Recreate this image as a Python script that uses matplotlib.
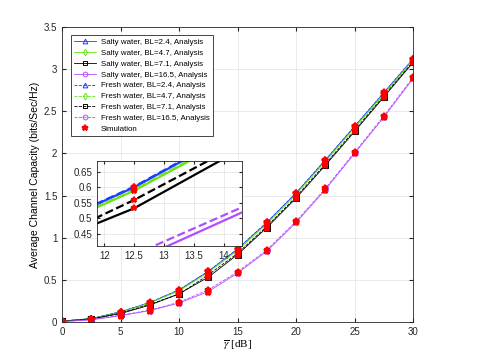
import numpy as np
import matplotlib
matplotlib.use('Agg')
import matplotlib.pyplot as plt

plt.rcParams['font.family'] = ['Liberation Sans', 'DejaVu Sans']
plt.rcParams['mathtext.fontset'] = 'stix'

snr = [0, 2.5, 5, 7.5, 10, 12.5, 15, 17.5, 20, 22.5, 25, 27.5, 30]

salty_24 = [0.01, 0.04, 0.12, 0.23, 0.38, 0.600, 0.865, 1.18, 1.53, 1.92, 2.32, 2.72, 3.12]
salty_47 = [0.01, 0.04, 0.115, 0.225, 0.371, 0.589, 0.850, 1.165, 1.515, 1.905, 2.305, 2.705, 3.11]
salty_71 = [0.01, 0.035, 0.10, 0.20, 0.335, 0.532, 0.800, 1.12, 1.47, 1.86, 2.26, 2.67, 3.08]
salty_165 = [0.005, 0.025, 0.075, 0.135, 0.225, 0.361, 0.580, 0.84, 1.18, 1.57, 2.00, 2.43, 2.89]
fresh_24 = [0.01, 0.041, 0.121, 0.232, 0.382, 0.602, 0.868, 1.183, 1.533, 1.923, 2.323, 2.723, 3.123]
fresh_47 = [0.01, 0.041, 0.116, 0.227, 0.373, 0.591, 0.853, 1.168, 1.518, 1.908, 2.308, 2.708, 3.113]
fresh_71 = [0.01, 0.037, 0.105, 0.21, 0.33, 0.559, 0.815, 1.135, 1.485, 1.875, 2.275, 2.685, 3.09]
fresh_165 = [0.006, 0.027, 0.08, 0.14, 0.235, 0.382, 0.595, 0.855, 1.195, 1.585, 2.015, 2.445, 2.905]

labels = ['Salty water, BL=2.4, Analysis', 'Salty water, BL=4.7, Analysis',
          'Salty water, BL=7.1, Analysis', 'Salty water, BL=16.5, Analysis',
          'Fresh water, BL=2.4, Analysis', 'Fresh water, BL=4.7, Analysis',
          'Fresh water, BL=7.1, Analysis', 'Fresh water, BL=16.5, Analysis']
series = [salty_24, salty_47, salty_71, salty_165, fresh_24, fresh_47, fresh_71, fresh_165]
colors = ['#1f3dff', '#66e619', '#000000', '#b24dff'] * 2
markers = ['^', 'd', 's', 'o'] * 2
styles = ['-'] * 4 + ['--'] * 4

fig = plt.figure(figsize=(4.85, 3.63), dpi=100)
ax = fig.add_axes([0.128, 0.113, 0.724, 0.813])

for y, c, m, ls, lab in zip(series, colors, markers, styles, labels):
    ax.plot(snr, y, color=c, ls=ls, lw=0.6, marker=m, ms=4, mfc='none', mew=0.7, label=lab)
for i, y in enumerate(series):
    ax.plot(snr, y, ls='none', marker='*', color='red', ms=5, mew=1.5,
            label='Simulation' if i == 0 else None)

ax.set_xlim(0, 30)
ax.set_ylim(0, 3.5)
ax.set_xticks(np.arange(0, 31, 5))
ax.set_yticks(np.arange(0, 3.51, 0.5))
ax.set_yticklabels(['0', '0.5', '1', '1.5', '2', '2.5', '3', '3.5'])
ax.grid(True, color='#e6e6e6', lw=0.6)
ax.set_axisbelow(True)
ax.tick_params(direction='in', top=True, right=True, labelsize=7, colors='#262626', length=3)
for s in ax.spines.values():
    s.set_color('#262626')
    s.set_linewidth(0.6)
ax.set_xlabel(r'$\overline{\gamma}$ [dB]', fontsize=8, family='Liberation Serif', labelpad=1)
ax.set_ylabel('Average Channel Capacity (bits/Sec/Hz)', fontsize=7.5, labelpad=3)

handles, labs = ax.get_legend_handles_labels()
leg = ax.legend(handles, labs, loc='upper left', fontsize=5.7, handlelength=2.7,
                labelspacing=0.42, borderpad=0.4, fancybox=False, framealpha=1,
                edgecolor='#262626', bbox_to_anchor=(0.015, 0.985), handletextpad=0.6,
                markerscale=0.85)
leg.get_frame().set_linewidth(0.6)

# inset
ins = fig.add_axes([97 / 485, (363 - 246) / 363, 145 / 485, 85 / 363])
for y, c, ls in zip(series, colors, styles):
    ins.plot(snr, y, color=c, ls=ls, lw=1.6)
for y in series:
    ins.plot(snr, y, ls='none', marker='*', color='red', ms=4, mew=1.5)
ins.set_xlim(11.88, 14.3)
ins.set_ylim(0.41, 0.685)
ins.set_xticks([12, 12.5, 13, 13.5, 14])
ins.set_xticklabels(['12', '12.5', '13', '13.5', '14'])
ins.set_yticks([0.45, 0.5, 0.55, 0.6, 0.65])
ins.set_yticklabels(['0.45', '0.5', '0.55', '0.6', '0.65'])
ins.grid(True, color='#e6e6e6', lw=0.6)
ins.set_axisbelow(True)
ins.tick_params(direction='in', top=True, right=True, labelsize=7, colors='#262626', length=2.5)
for s in ins.spines.values():
    s.set_color('#262626')
    s.set_linewidth(0.6)

fig.savefig('out.png', dpi=100)
